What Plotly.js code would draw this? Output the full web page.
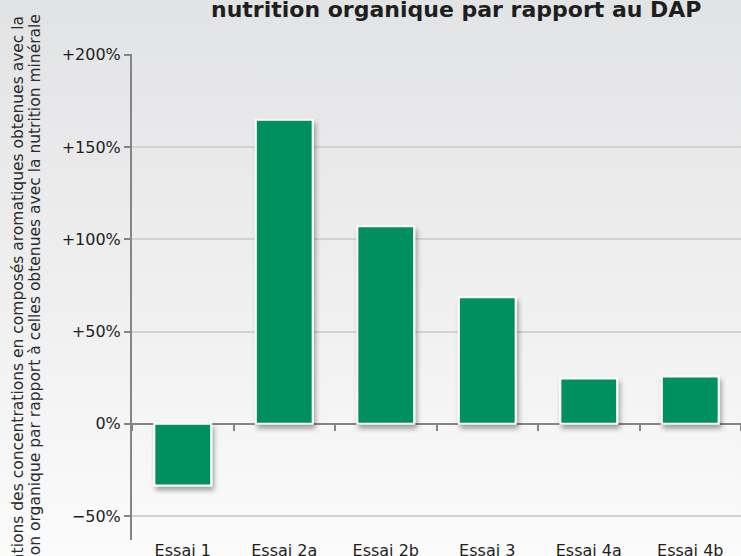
<!DOCTYPE html>
<html>
<head>
<meta charset="utf-8">
<script src="https://cdn.plot.ly/plotly-3.0.1.min.js"></script>
<style>
  html, body { margin: 0; padding: 0; }
  body { width: 741px; height: 556px; overflow: hidden;
         background: linear-gradient(to bottom, #e2e3e5 0%, #ececed 40%, #fbfbfb 100%); }
  #chart { width: 741px; height: 556px; }
  .barlayer .trace .point path { filter: url(#ds); }
</style>
</head>
<body>
<svg width="0" height="0" style="position:absolute">
  <defs>
    <filter id="ds" x="-30%" y="-30%" width="160%" height="160%">
      <feDropShadow dx="2" dy="4" stdDeviation="2.5" flood-color="#000" flood-opacity="0.35"/>
    </filter>
  </defs>
</svg>
<div id="chart"></div>
<script>
const categories = ['Essai 1', 'Essai 2a', 'Essai 2b', 'Essai 3', 'Essai 4a', 'Essai 4b'];
const values = [-33.5, 164.8, 107, 68.5, 24.5, 25.6];
const yTickVals = [-50, 0, 50, 100, 150, 200];
const yTickText = ['\u221250%', '0%', '+50%', '+100%', '+150%', '+200%'];
const chartTitle = 'nutrition organique par rapport au DAP';
const yTitleLine1 = 'Variations des concentrations en composés aromatiques obtenues avec la';
const yTitleLine2 = 'nutrition organique par rapport à celles obtenues avec la nutrition minérale';

const W = 741, H = 556, L = 132, R = 0, T = 54, B = 16;
const yRange = [-63, 200.4];
const plotW = W - L - R, plotH = H - T - B;
const px2x = px => (px - L) / plotW;
const py2y = py => (H - B - py) / plotH;
const zeroPos = (0 - yRange[0]) / (yRange[1] - yRange[0]);

const bars = {
  type: 'bar', x: categories, y: values,
  marker: { color: '#00905e', line: { color: '#ffffff', width: 2 } },
  hoverinfo: 'x+y', showlegend: false
};
const tickHelper = {
  type: 'scatter', mode: 'markers', x: categories, y: values.map(() => null),
  xaxis: 'x2', yaxis: 'y', hoverinfo: 'skip', showlegend: false
};

const font = 'DejaVu Sans, sans-serif';
const layout = {
  width: W, height: H,
  margin: { l: L, r: R, t: T, b: B, pad: 0 },
  paper_bgcolor: 'rgba(0,0,0,0)', plot_bgcolor: 'rgba(0,0,0,0)',
  bargap: 0.44,
  font: { family: font, color: '#1e1e1e' },
  xaxis: {
    type: 'category', categoryarray: categories, range: [-0.5, 5.5],
    showline: false, showgrid: false, zeroline: false, ticks: '',
    tickfont: { size: 16, color: '#1e1e1e', family: font },
    ticklabelstandoff: -1, automargin: false, fixedrange: true
  },
  xaxis2: {
    type: 'category', categoryarray: categories, range: [-0.5, 5.5],
    overlaying: 'x', anchor: 'free', position: zeroPos, side: 'bottom',
    showline: false, showgrid: false, zeroline: false,
    ticks: 'outside', tickson: 'boundaries', ticklen: 6, tickwidth: 2, tickcolor: '#858585',
    showticklabels: false, automargin: false, fixedrange: true
  },
  yaxis: {
    range: yRange, tickvals: yTickVals, ticktext: yTickText,
    showline: true, linecolor: '#858585', linewidth: 2,
    ticks: 'outside', ticklen: 6, tickwidth: 2, tickcolor: '#858585',
    showgrid: true, gridcolor: '#d2d2d2', gridwidth: 2,
    zeroline: true, zerolinecolor: '#858585', zerolinewidth: 2,
    tickfont: { size: 16, color: '#1e1e1e', family: font },
    automargin: false, fixedrange: true
  },
  annotations: [
    { text: chartTitle, xref: 'paper', yref: 'paper', x: px2x(456), y: py2y(9),
      xanchor: 'center', yanchor: 'middle', showarrow: false,
      font: { family: 'DejaVu Sans, sans-serif', size: 22, color: '#1e1e1e', weight: 'bold' } },
    { text: yTitleLine1, xref: 'paper', yref: 'paper', x: px2x(18), y: py2y(14),
      xanchor: 'center', yanchor: 'top', textangle: -90, showarrow: false,
      font: { family: font, size: 15.5, color: '#2a2a2a' } },
    { text: yTitleLine2, xref: 'paper', yref: 'paper', x: px2x(35), y: py2y(12),
      xanchor: 'center', yanchor: 'top', textangle: -90, showarrow: false,
      font: { family: font, size: 15.5, color: '#2a2a2a' } }
  ]
};

Plotly.newPlot('chart', [bars, tickHelper], layout, { displayModeBar: false, staticPlot: true });
</script>
</body>
</html>
